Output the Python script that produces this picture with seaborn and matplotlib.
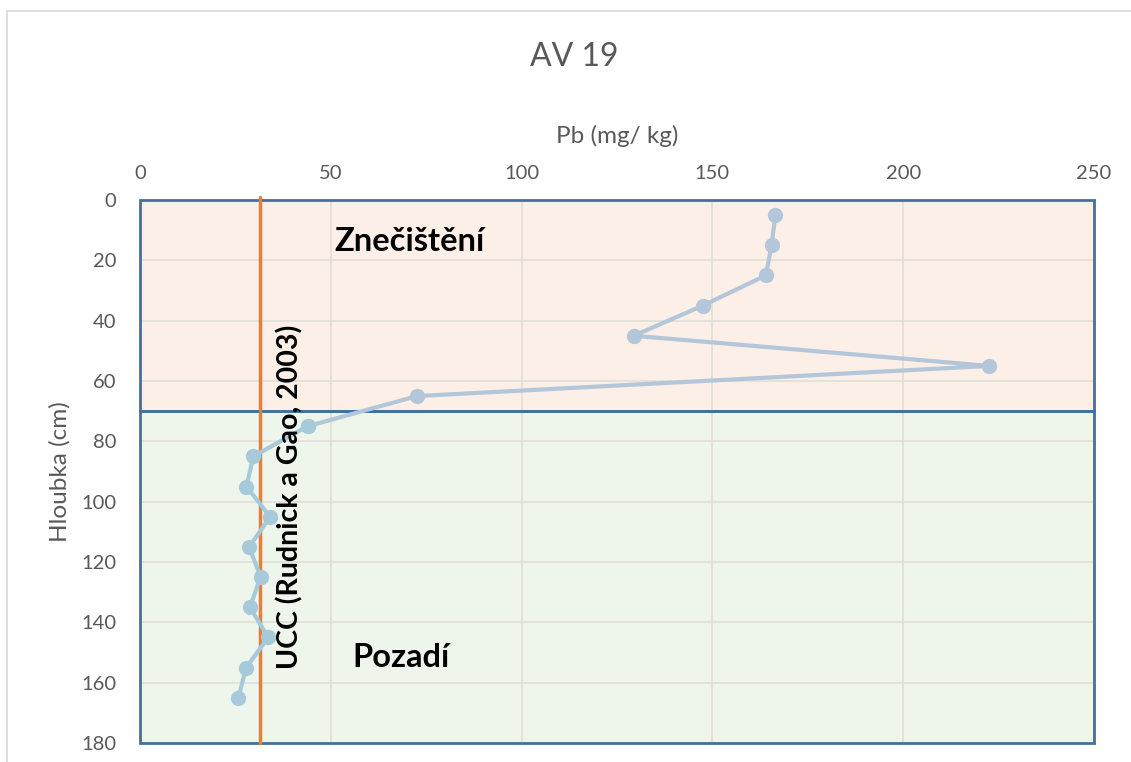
import matplotlib
matplotlib.use("Agg")
import matplotlib.pyplot as plt
import seaborn as sns
import pandas as pd
from matplotlib.patches import Rectangle

# ---- data ----
depth_top = [5, 15, 25, 35, 45, 55, 65, 75]
pb_top = [166.5, 165.5, 164.0, 147.5, 129.4, 222.6, 72.6, 43.9]
depth_bottom = [75, 85, 95, 105, 115, 125, 135, 145, 155, 165]
pb_bottom = [43.9, 29.7, 27.9, 34.1, 28.6, 31.6, 28.8, 33.6, 27.8, 25.8]
ucc_value = 31.5
zone_boundary = 70
depth_max = 180
x_max = 250
x_ticks = [0, 50, 100, 150, 200, 250]
y_ticks = [0, 20, 40, 60, 80, 100, 120, 140, 160, 180]

title = "AV 19"
x_label = "Pb (mg/ kg)"
y_label = "Hloubka (cm)"
zone_top_label = "Znečištění"
zone_bottom_label = "Pozadí"
ucc_label = "UCC (Rudnick a Gao, 2003)"

sns.set_theme(style="white")
plt.rcParams['font.family'] = ['Lato', 'DejaVu Sans']

fig = plt.figure(figsize=(11.31, 7.62), dpi=100)
W, H = 1131, 762
ax = fig.add_axes([140 / W, (H - 743) / H, 954 / W, 543 / H])

# outer chart border
fig.patches.append(Rectangle((7 / W, -0.05), 1.2, 1.05 - 11 / H,
                             transform=fig.transFigure, fill=False,
                             edgecolor="#D9D9D9", linewidth=1.2, zorder=0))

# zones (fills)
ax.axhspan(0, zone_boundary, facecolor="#FBEFE7", edgecolor="none", zorder=0)
ax.axhspan(zone_boundary, depth_max, facecolor="#EEF5EA", edgecolor="none", zorder=0)

ax.set_xlim(0, x_max)
ax.set_ylim(depth_max, 0)
ax.set_xticks(x_ticks)
ax.set_yticks(y_ticks)
ax.grid(True, color="#E0DDD8", linewidth=1.2)
ax.set_axisbelow(True)

# zone outlines
for y0, y1 in [(0, zone_boundary), (zone_boundary, depth_max)]:
    ax.add_patch(Rectangle((0, y0), x_max, y1 - y0, fill=False,
                           edgecolor="#41719C", linewidth=2.0, zorder=1.5,
                           clip_on=False))

# UCC line
ax.plot([ucc_value, ucc_value], [-1, depth_max], color="#ED7D31", linewidth=2.5,
        zorder=2, clip_on=False)

df_top = pd.DataFrame({"pb": pb_top, "depth": depth_top})
df_bot = pd.DataFrame({"pb": pb_bottom, "depth": depth_bottom})
sns.lineplot(data=df_top, x="pb", y="depth", sort=False, orient="y",
             color="#B4C6DA", linewidth=3, marker="o", markersize=11,
             markeredgewidth=0, ax=ax, zorder=3)
sns.lineplot(data=df_bot, x="pb", y="depth", sort=False, orient="y",
             color="#A7CADB", linewidth=3, marker="o", markersize=11,
             markeredgewidth=0, ax=ax, zorder=4)

for s in ax.spines.values():
    s.set_visible(False)

ax.xaxis.tick_top()
ax.xaxis.set_label_position("top")
ax.tick_params(axis="x", length=0, pad=13, labelsize=14.5, labelcolor="#595959")
ax.tick_params(axis="y", length=0, pad=17, labelsize=14.5, labelcolor="#595959")
ax.set_xlabel(x_label, fontsize=17.5, color="#595959", labelpad=16)
ax.set_ylabel(y_label, fontsize=17.5, color="#595959")
ax.yaxis.label.set_va("center")
ax.yaxis.set_label_coords((60 - 140) / 954, 0.5)

fig.text(574 / W, 1 - 57 / H, title, ha="center", va="center",
         fontsize=23, color="#595959")

ax.text(51, 13.8, zone_top_label, ha="left", va="center", fontsize=23.5,
        fontweight="bold", color="black", zorder=5)
ax.text(55.6, 151.8, zone_bottom_label, ha="left", va="center", fontsize=23.5,
        fontweight="bold", color="black", zorder=5)
ax.text(39.3, 98.4, ucc_label, ha="center", va="center", rotation=90,
        fontsize=20.5, fontweight="bold", color="black", zorder=5)

fig.savefig("out.png", dpi=100)
